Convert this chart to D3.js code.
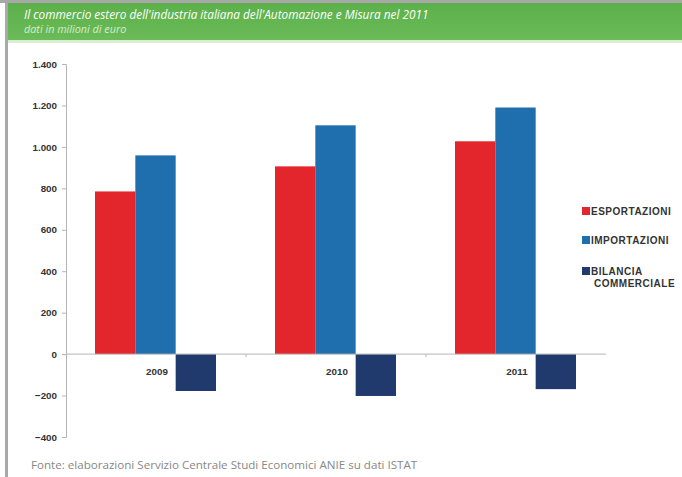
<!DOCTYPE html>
<html><head><meta charset="utf-8">
<script src="https://cdn.jsdelivr.net/npm/d3@7/dist/d3.min.js"></script>
<style>body{margin:0;background:#fff}svg{display:block}</style>
</head><body>
<svg id="c" width="682" height="477"></svg>
<script>
const years = ["2009", "2010", "2011"];
const seriesNames = ["ESPORTAZIONI", "IMPORTAZIONI", "BILANCIA COMMERCIALE"];
const esportazioni = [785, 906, 1027];
const importazioni = [959, 1104, 1190];
const bilancia = [-178, -202, -169];
const yTicks = [-400, -200, 0, 200, 400, 600, 800, 1000, 1200, 1400];
const colors = ["#e2262b", "#1f6ead", "#203a6d"];

const svg = d3.select("#c");
// frame
svg.append("rect").attr("x",0).attr("y",0).attr("width",682).attr("height",3).attr("fill","#a8a8a8");
svg.append("rect").attr("x",5).attr("y",0).attr("width",3).attr("height",477).attr("fill","#a8a8a8");
// header
const g0 = svg.append("defs").append("linearGradient").attr("id","hg").attr("x1",0).attr("y1",0).attr("x2",0).attr("y2",1);
g0.append("stop").attr("offset","0").attr("stop-color","#5cb04a");
g0.append("stop").attr("offset","1").attr("stop-color","#6bbb58");
svg.append("rect").attr("x",8).attr("y",3).attr("width",674).attr("height",37).attr("fill","url(#hg)");
svg.append("rect").attr("x",8).attr("y",40).attr("width",674).attr("height",3).attr("fill","#d9efd2");
svg.append("text").attr("x",24).attr("y",19).attr("fill","#ffffff")
  .attr("font-family","Open Sans, sans-serif").attr("font-style","italic").attr("font-size",11.8)
  .text("Il commercio estero dell'industria italiana dell'Automazione e Misura nel 2011");
svg.append("text").attr("x",24).attr("y",33).attr("fill","#d5ecce")
  .attr("font-family","Open Sans, sans-serif").attr("font-style","italic").attr("font-size",10.8)
  .text("dati in milioni di euro");

const x0 = d3.scaleBand().domain(years).range([66, 606]).paddingInner(0).paddingOuter(0);
const x1 = d3.scaleBand().domain(seriesNames).range([29, 150]);
const y = d3.scaleLinear().domain([-400, 1400]).range([437, 64]);

const data = years.map((yr, i) => ({year: yr, vals: [esportazioni[i], importazioni[i], bilancia[i]]}));

// axis
const ax = svg.append("g").attr("transform","translate(66,0)")
  .call(d3.axisLeft(y).tickValues(yTicks).tickSize(4).tickPadding(5)
    .tickFormat(d => d3.format(",")(d).replace(/,/g, ".")));
ax.select(".domain").attr("stroke","#b5b5b5");
ax.selectAll(".tick line").attr("stroke","#b5b5b5");
ax.selectAll(".tick text").attr("fill","#333").attr("font-family","Liberation Sans, Arial, sans-serif")
  .attr("font-size",9.8).attr("font-weight","bold");

// bars
const grp = svg.selectAll("g.yr").data(data).join("g").attr("class","yr")
  .attr("transform", d => `translate(${x0(d.year)},0)`);
grp.selectAll("rect").data(d => d.vals.map((v, k) => ({v, k}))).join("rect")
  .attr("x", d => x1(seriesNames[d.k]))
  .attr("width", x1.bandwidth())
  .attr("y", d => y(Math.max(0, d.v)))
  .attr("height", d => Math.abs(y(d.v) - y(0)))
  .attr("fill", d => colors[d.k]);

// zero line
svg.append("line").attr("x1",66).attr("x2",606).attr("y1",y(0)).attr("y2",y(0)).attr("stroke","#b5b5b5");
// category boundary ticks
years.slice(1).forEach(yr => {
  svg.append("line").attr("x1",x0(yr)).attr("x2",x0(yr)).attr("y1",y(0)).attr("y2",y(0)+3).attr("stroke","#b5b5b5");
});
// category labels
svg.selectAll("text.cat").data(years).join("text").attr("class","cat")
  .attr("x", d => x0(d) + x0.bandwidth()/2 + 1).attr("y", y(0) + 21)
  .attr("text-anchor","middle").attr("fill","#333")
  .attr("font-family","Liberation Sans, Arial, sans-serif").attr("font-size",9.8).attr("font-weight","bold")
  .text(d => d);

// legend
const legY = [211, 240, 271];
const legLines = [["ESPORTAZIONI"], ["IMPORTAZIONI"], ["BILANCIA", "COMMERCIALE"]];
seriesNames.forEach((s, i) => {
  svg.append("rect").attr("x",582).attr("y",legY[i]-4).attr("width",8).attr("height",8).attr("fill",colors[i]);
  const t = svg.append("text").attr("x",591).attr("y",legY[i]+4).attr("fill","#333")
    .attr("font-family","Liberation Sans, Arial, sans-serif").attr("font-size",10).attr("font-weight","bold")
    .attr("letter-spacing",0.5);
  legLines[i].forEach((ln, j) => t.append("tspan").attr("x", j ? 594 : 591).attr("dy", j ? 12 : 0).text(ln));
});

// source
svg.append("text").attr("x",31).attr("y",469).attr("fill","#888")
  .attr("font-family","Open Sans, sans-serif").attr("font-size",11.6)
  .text("Fonte: elaborazioni Servizio Centrale Studi Economici ANIE su dati ISTAT");
</script>
</body></html>
